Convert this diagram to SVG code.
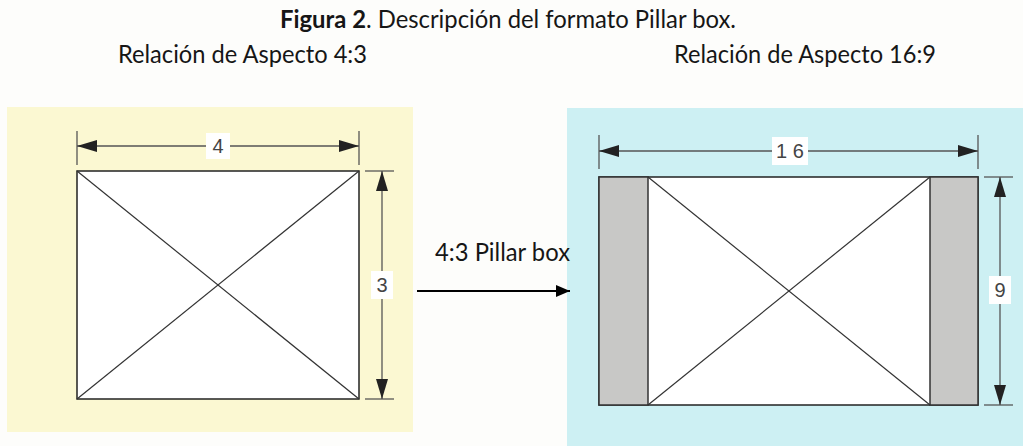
<svg xmlns="http://www.w3.org/2000/svg" width="1023" height="446" viewBox="0 0 1023 446">
<defs>
<style>
.cap{font-family:Lato,"Open Sans","Liberation Sans",sans-serif;font-size:25px;fill:#161616}
.dim{font-family:"Liberation Sans",Arial,sans-serif;font-size:20px;fill:#444}
.dl{stroke:#555;stroke-width:1.3;fill:none}
.box{fill:#fff;stroke:#222;stroke-width:1.5}
.diag{stroke:#333;stroke-width:1.2}
.pil{fill:#c8c8c6;stroke:#333;stroke-width:1.5}
</style>
<marker id="ah" viewBox="0 0 20 12" refX="20" refY="6" markerWidth="20" markerHeight="12" markerUnits="userSpaceOnUse" orient="auto-start-reverse">
<path d="M0,0 L20,6 L0,12 Z" fill="#222"/>
</marker>
<marker id="ak" viewBox="0 0 14 12" refX="14" refY="6" markerWidth="14" markerHeight="12" markerUnits="userSpaceOnUse" orient="auto">
<path d="M0,0 L14,6 L0,12 Z" fill="#000"/>
</marker>
</defs>
<rect width="1023" height="446" fill="#fdfdfb"/>
<g id="titles">
<text class="cap" x="280" y="28" textLength="456" lengthAdjust="spacingAndGlyphs"><tspan font-weight="bold">Figura 2</tspan>. Descripción del formato Pillar box.</text>
<text class="cap" x="118" y="63" textLength="249" lengthAdjust="spacingAndGlyphs">Relación de Aspecto 4:3</text>
<text class="cap" x="674" y="63" textLength="262" lengthAdjust="spacingAndGlyphs">Relación de Aspecto 16:9</text>
</g>
<g id="panel43">
<rect x="7" y="107" width="406" height="325" fill="#fbf8d2"/>
<rect class="box" x="77" y="171" width="282" height="228"/>
<line class="diag" x1="77" y1="171" x2="359" y2="399"/>
<line class="diag" x1="359" y1="171" x2="77" y2="399"/>
<line class="dl" x1="77" y1="131" x2="77" y2="165"/>
<line class="dl" x1="359" y1="131" x2="359" y2="165"/>
<line class="dl" x1="365" y1="171" x2="394" y2="171"/>
<line class="dl" x1="365" y1="399" x2="394" y2="399"/>
</g>
<g id="panel169">
<rect x="567" y="108" width="456" height="338" fill="#cdf0f3"/>
<rect class="box" x="599" y="177" width="379" height="228"/>
<rect class="pil" x="599" y="177" width="49" height="228"/>
<rect class="pil" x="930" y="177" width="48" height="228"/>
<line class="diag" x1="648" y1="177" x2="930" y2="405"/>
<line class="diag" x1="930" y1="177" x2="648" y2="405"/>
<line class="dl" x1="599" y1="135" x2="599" y2="169"/>
<line class="dl" x1="978" y1="135" x2="978" y2="169"/>
<line class="dl" x1="984" y1="177" x2="1013" y2="177"/>
<line class="dl" x1="984" y1="405" x2="1013" y2="405"/>
</g>
<g id="connectors">
<line class="dl" x1="77" y1="146" x2="359" y2="146" marker-start="url(#ah)" marker-end="url(#ah)"/>
<line class="dl" x1="382" y1="171" x2="382" y2="399" marker-start="url(#ah)" marker-end="url(#ah)"/>
<line class="dl" x1="599" y1="151" x2="978" y2="151" marker-start="url(#ah)" marker-end="url(#ah)"/>
<line class="dl" x1="1000" y1="177" x2="1000" y2="405" marker-start="url(#ah)" marker-end="url(#ah)"/>
<line x1="417" y1="291" x2="570" y2="291" stroke="#000" stroke-width="2.2" marker-end="url(#ak)"/>
</g>
<g id="labels">
<rect x="206" y="133" width="24" height="26" fill="#fff"/>
<text class="dim" x="218" y="153" text-anchor="middle">4</text>
<rect x="371" y="271" width="22" height="28" fill="#fff"/>
<text class="dim" x="382" y="292" text-anchor="middle">3</text>
<rect x="772" y="137" width="36" height="28" fill="#fff"/>
<text class="dim" x="790" y="158" text-anchor="middle">1 6</text>
<rect x="989" y="276" width="22" height="28" fill="#fff"/>
<text class="dim" x="1000" y="297" text-anchor="middle">9</text>
<text class="cap" x="435" y="261" textLength="135" lengthAdjust="spacingAndGlyphs">4:3 Pillar box</text>
</g>
</svg>
